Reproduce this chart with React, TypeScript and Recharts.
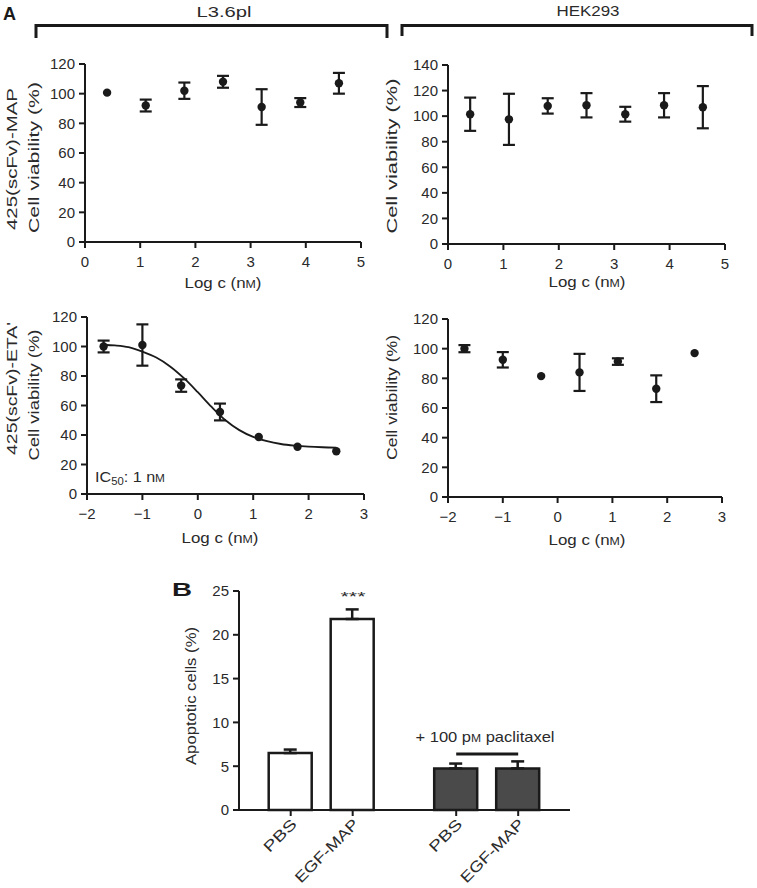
import {
  ComposedChart, Scatter, Line, Bar, Cell, XAxis, YAxis, ErrorBar, ReferenceLine
} from 'recharts';

const W = 757;
const H = 888;
const YW = 40;
const XH = 30;
const INK = '#1a1a1a';
const TXT = '#2a2a2a';
const FONT = 'Arial, "Liberation Sans", Helvetica, sans-serif';

// Panel A, top row: 425(scFv)-MAP
const mapLogC = [0.4, 1.1, 1.8, 2.5, 3.2, 3.9, 4.6];
const mapL36Viability = [100.7, 92, 102, 108, 91, 94, 107];
const mapL36Err = [0, 4, 5.5, 4, 12, 3, 7];
const mapHekViability = [101.5, 97.5, 108, 108.5, 101.5, 108.5, 107];
const mapHekErr = [13, 20, 6, 9.5, 5.8, 9.5, 16.5];

// Panel A, bottom row: 425(scFv)-ETA'
const etaLogC = [-1.7, -1, -0.3, 0.4, 1.1, 1.8, 2.5];
const etaL36Viability = [100, 101, 73.5, 55.6, 38.6, 32, 29];
const etaL36Err = [4, 14, 4.2, 5.7, 0, 0, 0];
const etaHekViability = [100, 92.5, 81.5, 84, 91.3, 73, 97];
const etaHekErr = [2.4, 5.2, 0, 12.5, 2.2, 9, 0];

// dose-response fit (L3.6pl, ETA')
const fitLogC = [-1.7, -1.5, -1.25, -1, -0.75, -0.5, -0.25, 0, 0.25, 0.5, 0.75, 1, 1.25, 1.5, 1.75, 2, 2.25, 2.5];
const fitViability = [101.2, 100.7, 99.5, 96.5, 92.5, 86.5, 78.5, 69, 59, 50, 43.3, 38.7, 35.8, 33.9, 32.8, 32.1, 31.7, 31.5];

// Panel B
const apoLabels = ['PBS', 'EGF-MAP', 'PBS', 'EGF-MAP'];
const apoGroup = [0, 0, 1, 1]; // 0 = alone, 1 = + paclitaxel
const apoMean = [6.5, 21.8, 4.75, 4.75];
const apoSem = [0.4, 1.1, 0.55, 0.8];

const GROUP_GAP = 1.67;
const apoX = apoGroup.map((g, i) => 1 + (i - g * 2) + g * (1 + GROUP_GAP));

type Rect = { x0: number; y0: number; x1: number; y1: number };

const margins = (r: Rect) => ({ left: r.x0 - YW, top: r.y0, right: W - r.x1, bottom: H - r.y1 - XH });

const tickStyle = { fontSize: 15, fill: TXT, fontFamily: FONT };
const axisLine = { stroke: INK, strokeWidth: 2 };
const tickLine = { stroke: INK, strokeWidth: 2 };
const fmt = (v: number) => (v < 0 ? `\u2212${-v}` : `${v}`);

const Dot = (p: any) => <circle cx={p.cx} cy={p.cy} r={4.2} fill={INK} />;

const range = (max: number) => Array.from({ length: max / 20 + 1 }, (_, i) => i * 20);

function ViabilityPanel(props: {
  rect: Rect; logC: number[]; viability: number[]; err: number[];
  xDomain: [number, number]; yMax: number; fitX?: number[]; fitY?: number[];
}) {
  const { rect, logC, viability, err, xDomain, yMax, fitX, fitY } = props;
  const pts = logC.map((x, i) => ({ x, y: viability[i], err: err[i] }));
  const curve = fitX && fitY ? fitX.map((x, i) => ({ x, y: fitY[i] })) : null;
  const xTicks = Array.from({ length: xDomain[1] - xDomain[0] + 1 }, (_, i) => xDomain[0] + i);
  return (
    <div style={{ position: 'absolute', left: 0, top: 0 }}>
      <ComposedChart width={W} height={H} margin={margins(rect)}>
        <XAxis type="number" dataKey="x" domain={xDomain} ticks={xTicks} interval={0} allowDataOverflow
          height={XH} tick={tickStyle} tickFormatter={fmt} tickSize={6} tickMargin={8}
          axisLine={axisLine} tickLine={tickLine} />
        <YAxis type="number" domain={[0, yMax]} ticks={range(yMax)} interval={0} allowDataOverflow
          width={YW} tick={tickStyle} tickSize={6} tickMargin={4}
          axisLine={axisLine} tickLine={tickLine} />
        {curve && (
          <Line data={curve} dataKey="y" type="monotone" dot={false} stroke={INK}
            strokeWidth={1.8} isAnimationActive={false} />
        )}
        <Scatter data={pts} dataKey="y" shape={Dot} isAnimationActive={false}>
          <ErrorBar dataKey="err" direction="y" width={6} stroke={INK} strokeWidth={2.2} />
        </Scatter>
      </ComposedChart>
    </div>
  );
}

const apoLabelLen: Record<string, number> = { 'PBS': 40, 'EGF-MAP': 83 };

const BarTick = (p: any) => {
  const ax = p.x + 7;
  const ay = p.y + 7;
  const label = apoLabels[p.index];
  return (
    <text x={ax} y={ay} transform={`rotate(-45 ${ax} ${ay})`} textAnchor="end"
      fontSize={15} fill={TXT} fontFamily={FONT}
      textLength={apoLabelLen[label]} lengthAdjust="spacingAndGlyphs">
      {label}
    </text>
  );
};

function ApoptosisPanel() {
  const rect = { x0: 239, y0: 591, x1: 570, y1: 810 };
  const data = apoX.map((x, i) => ({ x, mean: apoMean[i], err: [0, apoSem[i]] }));
  const lineY = Math.max(apoMean[2] + apoSem[2], apoMean[3] + apoSem[3]) + 0.85;
  return (
    <div style={{ position: 'absolute', left: 0, top: 0 }}>
      <ComposedChart width={W} height={H} data={data} margin={margins(rect)}>
        <XAxis type="number" dataKey="x" domain={[0.166, 5.506]} ticks={apoX} interval={0}
          allowDataOverflow height={XH} tick={<BarTick />} tickSize={6} tickMargin={2}
          axisLine={axisLine} tickLine={tickLine} />
        <YAxis type="number" domain={[0, 25]} ticks={[0, 5, 10, 15, 20, 25]} interval={0}
          width={YW} tick={tickStyle} tickSize={6} tickMargin={4}
          axisLine={axisLine} tickLine={tickLine} />
        <Bar dataKey="mean" barSize={43} stroke={INK} strokeWidth={2.5} isAnimationActive={false}>
          {data.map((_, i) => (
            <Cell key={i} fill={apoGroup[i] ? '#4a4a4a' : '#ffffff'} />
          ))}
          <ErrorBar dataKey="err" direction="y" width={6.5} stroke={INK} strokeWidth={2.5} />
        </Bar>
        <ReferenceLine segment={[{ x: apoX[2], y: lineY }, { x: apoX[3], y: lineY }]}
          stroke={INK} strokeWidth={3} />
      </ComposedChart>
    </div>
  );
}

const SmallM = () => <tspan fontSize={11}>M</tspan>;

function T(props: {
  x: number; y: number; len?: number; rot?: number; size?: number;
  anchor?: 'start' | 'middle' | 'end'; bold?: boolean; children: any;
}) {
  const { x, y, len, rot, size = 15, anchor = 'middle', bold, children } = props;
  return (
    <text x={x} y={y} transform={rot ? `rotate(${rot} ${x} ${y})` : undefined}
      textAnchor={anchor} dominantBaseline={rot ? 'central' : undefined}
      fontSize={size} fontWeight={bold ? 'bold' : undefined}
      fill={bold ? INK : TXT} fontFamily={FONT}
      textLength={len} lengthAdjust={len ? 'spacingAndGlyphs' : undefined}>
      {children}
    </text>
  );
}

const LogLabel = ({ x, y }: { x: number; y: number }) => (
  <T x={x} y={y} len={77}>Log c (n<SmallM />)</T>
);

function Annotations() {
  return (
    <svg width={W} height={H} style={{ position: 'absolute', left: 0, top: 0 }}>
      <T x={3} y={20} size={18} bold anchor="start">A</T>
      <T x={224} y={16.5} len={55}>L3.6pl</T>
      <T x={588} y={16} len={63}>HEK293</T>
      <path d="M36 38 V25.5 H387 V38" fill="none" stroke={INK} strokeWidth={3} />
      <path d="M402 36 V25.5 H752 V36" fill="none" stroke={INK} strokeWidth={3} />

      <T x={11} y={159} rot={-90} len={142}>425(scFv)-MAP</T>
      <T x={33} y={157.5} rot={-90} len={151}>Cell viability (%)</T>
      <T x={391} y={156} rot={-90} len={155}>Cell viability (%)</T>
      <T x={11} y={388.5} rot={-90} len={133}>425(scFv)-ETA'</T>
      <T x={33} y={395} rot={-90} len={131}>Cell viability (%)</T>
      <T x={391} y={397.5} rot={-90} len={125}>Cell viability (%)</T>

      <LogLabel x={223} y={288} />
      <LogLabel x={587} y={287} />
      <LogLabel x={220} y={543} />
      <LogLabel x={587} y={545} />

      <T x={95} y={482} anchor="start" len={70}>
        IC<tspan fontSize={10.5} dy={3}>50</tspan><tspan dy={-3}>: 1 n</tspan><SmallM />
      </T>

      <T x={172} y={596} size={18} bold anchor="start" len={20}>B</T>
      <T x={190} y={696} rot={-90} len={138}>Apoptotic cells (%)</T>
      <T x={353} y={601} size={13} len={25}>***</T>
      <T x={485} y={742} len={139}>+ 100 p<SmallM /> paclitaxel</T>
    </svg>
  );
}

export default function App() {
  return (
    <div style={{ position: 'absolute', left: 0, top: 0, width: W, height: H, background: '#fff' }}>
      <ViabilityPanel rect={{ x0: 85, y0: 64, x1: 361, y1: 242 }} logC={mapLogC}
        viability={mapL36Viability} err={mapL36Err} xDomain={[0, 5]} yMax={120} />
      <ViabilityPanel rect={{ x0: 448, y0: 65, x1: 725, y1: 244 }} logC={mapLogC}
        viability={mapHekViability} err={mapHekErr} xDomain={[0, 5]} yMax={140} />
      <ViabilityPanel rect={{ x0: 87, y0: 317, x1: 364, y1: 494 }} logC={etaLogC}
        viability={etaL36Viability} err={etaL36Err} xDomain={[-2, 3]} yMax={120}
        fitX={fitLogC} fitY={fitViability} />
      <ViabilityPanel rect={{ x0: 448, y0: 319, x1: 722, y1: 497 }} logC={etaLogC}
        viability={etaHekViability} err={etaHekErr} xDomain={[-2, 3]} yMax={120} />
      <ApoptosisPanel />
      <Annotations />
    </div>
  );
}
